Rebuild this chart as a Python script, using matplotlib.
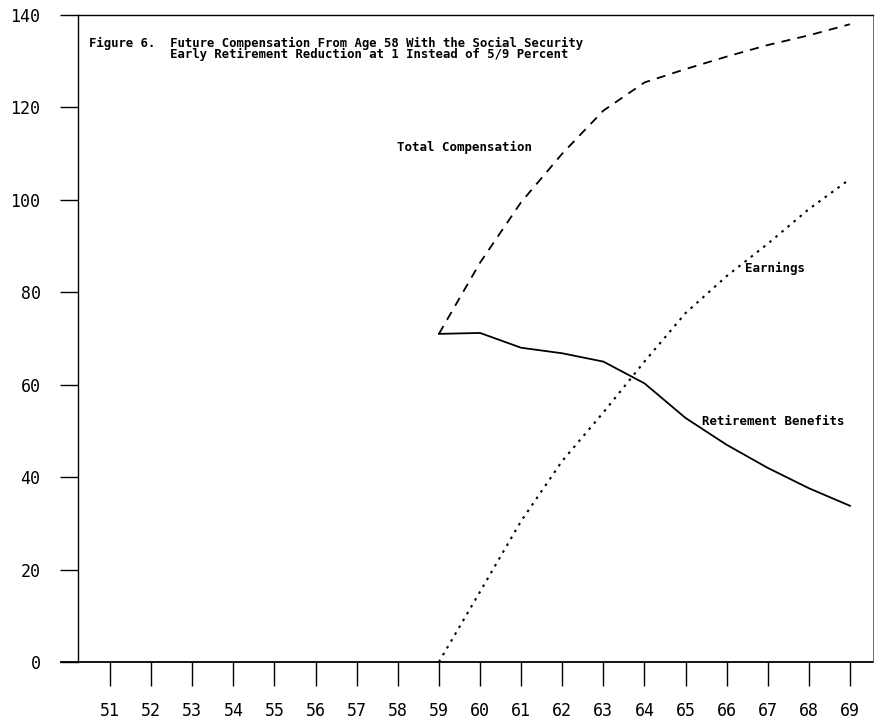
import matplotlib
matplotlib.use("Agg")
import matplotlib.pyplot as plt

# ages on the x axis
ages_axis = list(range(51, 70))
# values from age 59 on
ages = [59, 60, 61, 62, 63, 64, 65, 66, 67, 68, 69]
total_comp = [71.0, 86.4, 99.5, 110.0, 119.3, 125.4, 128.3, 131.0, 133.5, 135.6, 138.0]
earnings = [0.0, 15.2, 30.5, 43.5, 54.0, 65.0, 75.5, 83.5, 90.5, 98.0, 104.5]
benefit = [71.0, 71.2, 68.0, 66.8, 65.0, 60.3, 52.8, 47.0, 42.0, 37.6, 33.8]
y_ticks = [0, 20, 40, 60, 80, 100, 120, 140]

title = ("Figure 6.  Future Compensation From Age 58 With the Social Security\n"
         "           Early Retirement Reduction at 1 Instead of 5/9 Percent")

fig = plt.figure(figsize=(8.75, 7.24), dpi=100)
ax = fig.add_axes([78 / 875, 62 / 724, 795 / 875, 647 / 724])

ax.plot(ages, total_comp, color="black", lw=1.3, linestyle=(0, (5, 4)))
ax.plot(ages, earnings, color="black", lw=1.5, linestyle=(0, (1.2, 2.6)))
ax.plot(ages, benefit, color="black", lw=1.3)

ax.set_xlim(50.22, 69.56)
ax.set_ylim(0, 140)
ax.set_xticks(ages_axis)
ax.set_xticklabels([str(a) for a in ages_axis])
ax.set_yticks(y_ticks)

ax.spines["bottom"].set_visible(False)
ax.spines["right"].set_linewidth(0.6)
ax.spines["right"].set_color("#555555")
ax.spines["top"].set_linewidth(1.0)
ax.spines["left"].set_linewidth(1.0)
# x axis line runs a bit past the left spine
ax.plot([-0.021, 1.0], [0, 0], transform=ax.transAxes, color="black",
        lw=1.3, clip_on=False)

ax.tick_params(axis="y", direction="out", length=13, width=1.0, pad=14,
               labelsize=12)
ax.tick_params(axis="x", direction="out", length=17, width=1.0, pad=12,
               labelsize=12)
for lab in ax.get_xticklabels() + ax.get_yticklabels():
    lab.set_family("DejaVu Sans Mono")

mono = dict(family="DejaVu Sans Mono", fontweight="bold", fontsize=9,
            va="center", ha="left")
ax.text(50.49, 132.7, title, linespacing=0.8,
        **{**mono, "fontsize": 8.85})

ax.text(57.98, 111.4, "Total Compensation", **mono)
ax.text(66.45, 85.1, "Earnings", **mono)
ax.text(65.4, 52.0, "Retirement Benefits", **mono)

fig.savefig("out.png", dpi=100)
